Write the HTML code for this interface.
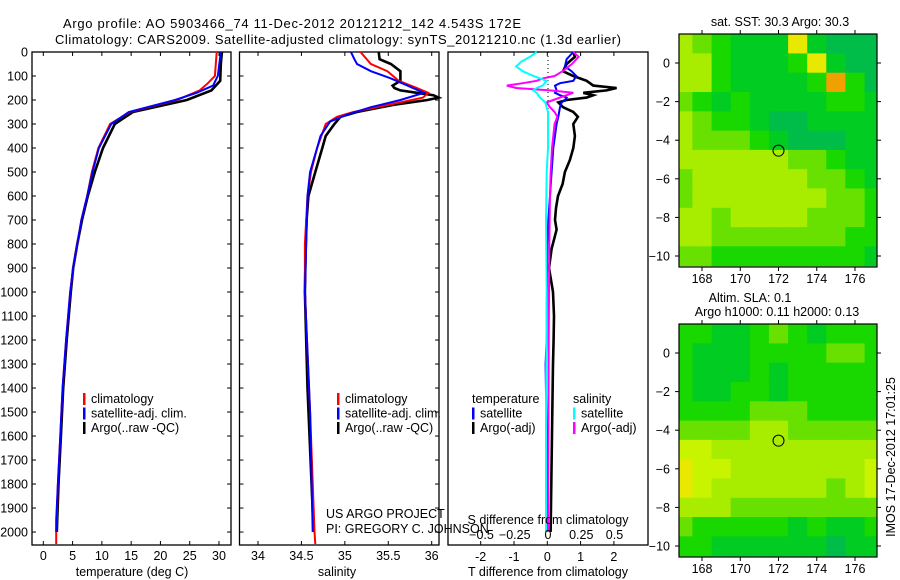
<!DOCTYPE html>
<html><head><meta charset="utf-8"><style>
html,body{margin:0;padding:0;background:#fff;}
svg{display:block;font-family:"Liberation Sans",sans-serif;}
text{font-size:12.5px;fill:#000;}
</style></head><body>
<svg id="fig" width="900" height="580" viewBox="0 0 900 580" xmlns="http://www.w3.org/2000/svg">
<text x="63" y="28" textLength="458" style="font-size:13px">Argo profile: AO 5903466_74 11-Dec-2012 20121212_142 4.543S 172E</text>
<text x="55" y="44" textLength="566" style="font-size:13px">Climatology: CARS2009. Satellite-adjusted climatology: synTS_20121210.nc (1.3d earlier)</text>
<g id="p1"></g>
<g id="p2"></g>
<g id="p3"></g>
<g id="m1"></g>
<g id="m2"></g>
<text transform="translate(895,457) rotate(-90)" text-anchor="middle">IMOS 17-Dec-2012 17:01:25</text>
</svg>
<script>
// ---- data ----
const tClimDepth=[0,100,130,160,200,250,300,400,500,600,700,800,900,1000,1200,1400,1600,1800,2000,2050];
const tClim=[29.6,29.3,28.1,26.7,22.8,14.8,11.4,9.4,8.3,7.5,6.5,5.8,5.1,4.6,3.9,3.3,2.9,2.5,2.2,2.2];
const tSatDepth=[0,100,140,170,200,250,300,400,500,600,700,800,900,1000,1200,1400,1600,1800,1950,2000];
const tSat=[30.3,29.8,29.0,26.2,22.5,14.6,11.6,9.5,8.4,7.5,6.5,5.8,5.1,4.6,3.9,3.3,2.9,2.5,2.2,2.2];
const tArgoDepth=[0,50,120,160,200,250,300,400,500,600,700,800,900,1000,1200,1400,1600,1800,2000];
const tArgo=[30.5,30.3,30.2,28.7,24.5,15.3,12.2,10.2,8.8,7.6,6.6,5.8,5.1,4.7,4.0,3.4,3.0,2.6,2.3];

const sClimDepth=[0,50,80,120,150,170,190,210,250,270,300,400,500,600,800,1000,1500,2000,2050];
const sClim=[35.18,35.30,35.49,35.62,35.83,35.96,35.90,35.64,35.10,34.91,34.78,34.68,34.61,34.57,34.54,34.54,34.60,34.65,34.66];
const sSatDepth=[0,30,50,80,110,140,170,200,230,260,290,350,400,500,600,1000,1500,2000];
const sSat=[35.07,35.11,35.14,35.30,35.53,35.72,35.91,35.64,35.30,35.03,34.83,34.72,34.68,34.60,34.57,34.54,34.60,34.63];
const sArgoDepth=[0,30,50,80,120,140,150,160,170,180,190,200,220,250,270,300,350,400,500,600,700,800,1000,1400,2000];
const sArgo=[35.39,35.40,35.53,35.64,35.64,35.55,35.57,35.64,35.83,36.02,36.08,35.95,35.56,35.14,34.95,34.88,34.78,34.74,34.66,34.58,34.56,34.55,34.54,34.57,34.64];

const dTArgoDepth=[0,20,50,80,100,120,140,150,160,170,180,190,200,210,230,250,270,300,350,400,450,500,550,600,650,700,740,820,900,1000,1100,1200,1300,1500,1800,2000];
const dTArgo=[0.78,0.83,0.58,0.47,0.78,1.18,1.38,2.08,1.78,1.08,1.38,1.18,0.58,0.33,0.47,0.78,0.92,0.78,0.83,0.78,0.68,0.53,0.46,0.32,0.26,0.23,0.28,0.13,0.05,0.17,0.2,0.19,0.17,0.15,0.12,0.1];
const dTSatDepth=[0,30,60,80,100,120,130,140,160,170,180,190,200,210,230,270,300,400,500,600,700,800,1200,1300,1600,2000];
const dTSat=[0.78,0.58,0.53,0.73,0.87,0.78,0.38,0.23,0.28,0.23,0.38,0.58,0.53,0.43,0.38,0.33,0.28,0.18,0.13,0.08,0.03,0.0,-0.02,-0.05,-0.02,-0.02];
const dSArgoDepth=[0,20,50,80,100,110,120,130,140,150,160,170,180,200,210,230,250,270,300,400,500,600,800,1200,2000];
const dSArgo=[0.19,0.23,0.18,0.11,0.05,-0.04,-0.085,-0.19,-0.31,-0.24,0.015,0.19,0.14,0.04,-0.01,0.015,0.05,0.07,0.05,0.03,0.02,0.015,0.01,0.005,0.0];
const dSSatDepth=[0,20,40,60,80,100,110,120,140,150,160,170,190,210,250,300,400,500,700,1000,1500,2000];
const dSSat=[-0.085,-0.135,-0.2,-0.24,-0.19,-0.11,-0.06,-0.01,-0.04,-0.085,-0.11,-0.085,-0.06,-0.02,0.0,0.0,0.0,-0.01,-0.015,-0.01,-0.015,-0.015];

const depthTicks=[0,100,200,300,400,500,600,700,800,900,1000,1100,1200,1300,1400,1500,1600,1700,1800,1900,2000];
const tempTicks=[0,5,10,15,20,25,30];
const salTicks=[34,34.5,35,35.5,36];
const salTickLabels=["34","34.5","35","35.5","36"];
const dTTicks=[-2,-1,0,1,2];
const dSTicks=[-0.5,-0.25,0,0.25,0.5];
const dSTickLabels=["\u22120.5","\u22120.25","0","0.25","0.5"];
const lonTicks=[168,170,172,174,176];
const latTicks=[0,-2,-4,-6,-8,-10];
const mapLons=[167,168,169,170,171,172,173,174,175,176,177];
const mapLats=[1,0,-1,-2,-3,-4,-5,-6,-7,-8,-9,-10];
const sstGrid=[
[4,3,2,1,1,1,6,1,0,0,0],
[4,4,2,1,1,1,2,6,1,0,0],
[4,4,2,1,1,1,1,2,7,2,0],
[3,2,1,2,1,1,1,1,2,2,1],
[4,3,2,2,1,0,0,1,1,1,1],
[4,3,3,3,2,1,0,0,0,1,1],
[4,4,4,4,4,4,3,3,2,1,1],
[3,4,4,4,4,4,4,3,3,2,1],
[3,4,4,4,4,4,4,4,3,3,2],
[4,4,3,4,4,4,4,3,3,3,2],
[4,4,3,3,3,3,3,3,3,2,2],
[3,3,2,2,2,2,2,2,2,2,1]];
const slaGrid=[
[2,2,1,1,2,3,2,1,2,2,2],
[2,1,1,1,2,2,2,2,3,3,2],
[2,1,1,1,2,1,2,2,2,2,2],
[2,1,1,2,2,1,2,2,2,2,2],
[2,2,2,2,3,3,3,2,2,2,2],
[3,3,3,3,4,4,3,3,3,3,3],
[5,5,4,4,4,4,4,4,4,4,4],
[6,5,5,4,4,4,4,4,4,4,5],
[6,5,4,4,4,4,4,4,3,4,5],
[4,4,4,3,3,3,3,3,3,3,3],
[3,2,2,2,2,2,1,2,1,1,2],
[2,2,1,1,1,1,1,1,0,1,1]];
const profileLon=172, profileLat=-4.543;

// ---- helpers ----
const NS="http://www.w3.org/2000/svg";
function mk(parent,tag,attrs,txt){const e=document.createElementNS(NS,tag);for(const k in attrs)e.setAttribute(k,attrs[k]);if(txt!==undefined)e.textContent=txt;parent.appendChild(e);return e;}
const Y0=52,Y1=545,DMAX=2054;
const yD=d=>Y0+(Y1-Y0)*d/DMAX;
function poly(g,xs,ds,fx,color,w,name){
  const pts=xs.map((v,i)=>fx(v).toFixed(1)+","+yD(ds[i]).toFixed(1)).join(" ");
  const p=mk(g,"polyline",{points:pts,fill:"none",stroke:color,"stroke-width":w,"stroke-linejoin":"miter"});
  
  
}
function frame(g,x0,x1,name){
  const r=mk(g,"rect",{x:x0,y:Y0,width:x1-x0,height:Y1-Y0,fill:"#fff",stroke:"#000","stroke-width":1.3});
  
  
}
function depthTickMarks(g,x0,x1){
  depthTicks.forEach(d=>{const y=yD(d);
    mk(g,"line",{x1:x0,y1:y,x2:x0+4,y2:y,stroke:"#000"});
    mk(g,"line",{x1:x1-4,y1:y,x2:x1,y2:y,stroke:"#000"});});
}
function xTicks(g,vals,labels,fx,ylab){
  vals.forEach((v,i)=>{const x=fx(v);
    mk(g,"line",{x1:x,y1:Y0,x2:x,y2:Y0+4,stroke:"#000"});
    mk(g,"line",{x1:x,y1:Y1-4,x2:x,y2:Y1,stroke:"#000"});
    if(ylab){const t=mk(g,"text",{x:x,y:ylab,"text-anchor":"middle"},labels[i]);
      
      }
  });
}
function legend(g,x,y0,items){
  items.forEach((it,i)=>{const y=y0+i*14.5;
    if(it.c){const r=mk(g,"rect",{x:x,y:y-10,width:2.5,height:12,fill:it.c});
      
      }
    const t=mk(g,"text",{x:x+(it.c?8:0),y:y},it.t);
    
    
  });
}

// ---- panel 1: temperature ----
(function(){
  const g=document.getElementById("p1");
  const x0=32,x1=231;
  const fx=v=>43.3+v*(219-43.3)/30;
  frame(g,x0,x1,"temperature-plot-area");
  depthTickMarks(g,x0,x1);
  depthTicks.forEach(d=>{const t=mk(g,"text",{x:28,y:yD(d)+4.5,"text-anchor":"end"},String(d));
    
    });
  xTicks(g,tempTicks,tempTicks.map(String),fx,560);
  const xl=mk(g,"text",{x:132,y:576,"text-anchor":"middle"},"temperature (deg C)");
  
  
  poly(g,tArgo,tArgoDepth,fx,"#000",2.6,"temp-argo-line");
  poly(g,tClim,tClimDepth,fx,"#f00",2,"temp-climatology-line");
  poly(g,tSat,tSatDepth,fx,"#00f",2,"temp-satellite-line");
  legend(g,83,403,[{c:"#f00",t:"climatology"},{c:"#00f",t:"satellite-adj. clim."},{c:"#000",t:"Argo(..raw -QC)"}]);
})();

// ---- panel 2: salinity ----
(function(){
  const g=document.getElementById("p2");
  const x0=239.5,x1=439;
  const fx=v=>258+(v-34)*(431.7-258)/2;
  frame(g,x0,x1,"salinity-plot-area");
  depthTickMarks(g,x0,x1);
  xTicks(g,salTicks,salTickLabels,fx,560);
  const xl=mk(g,"text",{x:337,y:576,"text-anchor":"middle"},"salinity");
  
  
  poly(g,sArgo,sArgoDepth,fx,"#000",2.6,"sal-argo-line");
  poly(g,sClim,sClimDepth,fx,"#f00",2,"sal-climatology-line");
  poly(g,sSat,sSatDepth,fx,"#00f",2,"sal-satellite-line");
  legend(g,337,403,[{c:"#f00",t:"climatology"},{c:"#00f",t:"satellite-adj. clim."},{c:"#000",t:"Argo(..raw -QC)"}]);
})();

// ---- panel 3: differences ----
(function(){
  const g=document.getElementById("p3");
  const x0=448,x1=648;
  const fT=v=>547.3+v*33.3;
  const fS=v=>548+v*133;
  frame(g,x0,x1,"difference-plot-area");
  xTicks(g,dTTicks,dTTicks.map(String),fT,561);
  mk(g,"line",{x1:548,y1:Y0,x2:548,y2:112,stroke:"#000","stroke-dasharray":"1,3"});
  poly(g,dTArgo,dTArgoDepth,fT,"#000",2.6,"dT-argo-line");
  poly(g,dTSat,dTSatDepth,fT,"#00f",2,"dT-satellite-line");
  poly(g,dSArgo,dSArgoDepth,fS,"#f0f",2,"dS-argo-line");
  poly(g,dSSat,dSSatDepth,fS,"#0ff",2,"dS-satellite-line");
  legend(g,472,403,[{t:"temperature"},{c:"#00f",t:"satellite"},{c:"#000",t:"Argo(-adj)"}]);
  legend(g,573,403,[{t:"salinity"},{c:"#0ff",t:"satellite"},{c:"#f0f",t:"Argo(-adj)"}]);
  dSTicks.forEach((v,i)=>{const t=mk(g,"text",{x:fS(v),y:539,"text-anchor":"middle"},dSTickLabels[i]);
    
    });
  const a=mk(g,"text",{x:548,y:524,"text-anchor":"middle"},"S difference from climatology");
  
  
  const b=mk(g,"text",{x:548,y:576,"text-anchor":"middle"},"T difference from climatology");
  
  
  const c=mk(g,"text",{x:326,y:518},"US ARGO PROJECT");
  
  
  const d=mk(g,"text",{x:326,y:533},"PI: GREGORY C. JOHNSON");
  
  
})();

// ---- maps ----
const palette=["#00bc48","#00cc22","#18d800","#68e000","#a8ec00","#c8f400","#e8e800","#f0a000"];
function drawMap(id,grid,top,titles){
  const g=document.getElementById(id);
  const mx0=679,mx1=877,my0=top,my1=top+233;
  const fx=lon=>702+(lon-168)*(855-702)/8;
  const fy=lat=>(top+29)+(0-lat)*19.3;
  const clip=mk(g,"clipPath",{id:id+"clip"});
  mk(clip,"rect",{x:mx0,y:my0,width:mx1-mx0,height:my1-my0});
  const cg=mk(g,"g",{"clip-path":"url(#"+id+"clip)"});
  grid.forEach((row,j)=>row.forEach((v,i)=>{
    const x=fx(mapLons[i]-0.5),y=fy(mapLats[j]+0.5);
    const r=mk(cg,"rect",{x:x.toFixed(1),y:y.toFixed(1),width:(fx(1)-fx(0)+0.6).toFixed(1),height:20,fill:palette[v]});
    
    
  }));
  const fr=mk(g,"rect",{x:mx0,y:my0,width:mx1-mx0,height:my1-my0,fill:"none",stroke:"#000","stroke-width":1.2});
  
  
  const ci=mk(g,"circle",{cx:fx(profileLon),cy:fy(profileLat),r:5.5,fill:"none",stroke:"#000","stroke-width":1});
  
  
  lonTicks.forEach(l=>{const x=fx(l);
    mk(g,"line",{x1:x,y1:my0,x2:x,y2:my0-4,stroke:"#000"});
    mk(g,"line",{x1:x,y1:my1,x2:x,y2:my1+4,stroke:"#000"});
    const t=mk(g,"text",{x:x,y:my1+16,"text-anchor":"middle"},String(l));
    
    });
  latTicks.forEach(l=>{const y=fy(l);
    mk(g,"line",{x1:mx0,y1:y,x2:mx0-4,y2:y,stroke:"#000"});
    mk(g,"line",{x1:mx1,y1:y,x2:mx1+4,y2:y,stroke:"#000"});
    const t=mk(g,"text",{x:mx0-9,y:y+4.5,"text-anchor":"end"},l<0?"\u2212"+(-l):String(l));
    
    });
  titles.forEach(tt=>{const t=mk(g,"text",{x:tt[0],y:tt[1],"text-anchor":"middle"},tt[2]);
    
    });
}
drawMap("m1",sstGrid,34,[[780,26,"sat. SST: 30.3 Argo: 30.3"]]);
drawMap("m2",slaGrid,324,[[750,302,"Altim. SLA: 0.1"],[777,316,"Argo h1000: 0.11 h2000: 0.13"]]);
</script>
</body></html>
